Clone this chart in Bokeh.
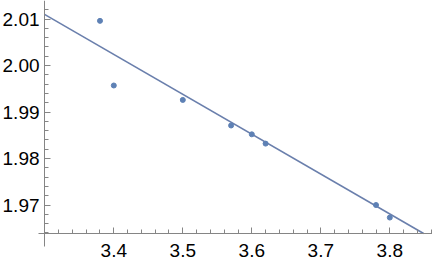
from bokeh.plotting import figure
from bokeh.models import FixedTicker, Range1d
from bokeh.embed import file_html
from bokeh.resources import INLINE

# data
x_vals = [3.38, 3.40, 3.50, 3.57, 3.60, 3.62, 3.78, 3.80]
y_vals = [2.0096, 1.9957, 1.9926, 1.9871, 1.9852, 1.9832, 1.9700, 1.9673]
fit_x = [3.2996, 3.849]
fit_y = [2.0110, 1.96387]

x_major = [3.4, 3.5, 3.6, 3.7, 3.8]
y_major = [1.97, 1.98, 1.99, 2.00, 2.01]
x_labels = {3.4: "3.4", 3.5: "3.5", 3.6: "3.6", 3.7: "3.7", 3.8: "3.8"}
y_labels = {1.97: "1.97", 1.98: "1.98", 1.99: "1.99", 2.0: "2.00", 2.01: "2.01"}

x_origin = 3.2996
y_origin = 1.96387

p = figure(width=432, height=262, output_backend="svg", toolbar_location=None,
           x_range=Range1d(3.23580, 3.86188), y_range=Range1d(1.957634, 2.01398),
           min_border=0, min_border_left=0, min_border_right=0,
           min_border_top=0, min_border_bottom=0)
p.outline_line_color = None
p.xgrid.visible = False
p.ygrid.visible = False
p.background_fill_color = "white"
p.border_fill_color = "white"

x_minor = [round(3.30 + 0.02 * i, 4) for i in range(29)]
y_minor = [round(1.964 + 0.002 * i, 4) for i in range(26)]

axis_color = "#858585"
for ax, ticks, minor, labels, loc, bnds in (
        (p.xaxis[0], x_major, x_minor, x_labels, y_origin, (3.2915, 3.862)),
        (p.yaxis[0], y_major, y_minor, y_labels, x_origin, (1.9610, 2.014))):
    ax.ticker = FixedTicker(ticks=ticks, minor_ticks=minor)
    ax.major_label_overrides = labels
    ax.fixed_location = loc
    ax.bounds = bnds
    ax.axis_line_color = axis_color
    ax.major_tick_line_color = axis_color
    ax.minor_tick_line_color = axis_color
    ax.major_tick_in = 6
    ax.major_tick_out = 0
    ax.minor_tick_in = 4
    ax.minor_tick_out = 0
    ax.major_label_text_font = "Liberation Sans"
    ax.major_label_text_font_size = "19px"
    ax.major_label_text_color = "black"

p.yaxis[0].major_label_standoff = 5
p.xaxis[0].major_label_standoff = 10

p.line(fit_x, fit_y, line_color="#6a7fac", line_width=1.6)
p.scatter(x_vals, y_vals, size=5, fill_color="#5e81b5", line_color="#5e81b5")

open("out.html", "w").write(file_html(p, INLINE))
